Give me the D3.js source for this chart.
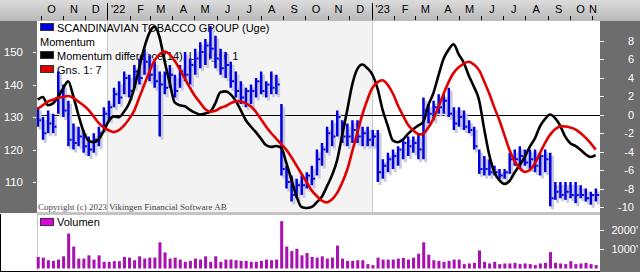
<!DOCTYPE html>
<html>
<head>
<meta charset="utf-8">
<title>Scandinavian Tobacco Group - Momentum</title>
<script src="https://d3js.org/d3.v7.min.js"></script>
<style>
    body { margin: 0; background: #fff; }
    svg { display: block; font-family: "Liberation Sans", Arial, sans-serif; }
</style>
</head>
<body>
<div id="chart"></div>
<script>
// weekly bars, first week starts Mon 27 Sep 2021
const firstWeek = new Date(2021, 8, 27);

const highs = [133,130,132,131,144,140,135,128,127,126,
    124,125,127,133,135,139,141,144,143,146,
    148,151,149,147,144,144,146,143,146,150,
    148,151,153,154,158,155,151,150,147,144,
    141,139,140,142,144,141,144,143,134,115,
    112,111,112,113,115,120,122,127,129,132,
    129,128,129,129,127,127,126,126,117,119,
    120,121,123,124,124,125,136,134,135,137,
    137,139,133,133,132,129,127,120,118,117,
    115,114,114,119,120,121,120,120,120,119,
    120,119,110,110,110,110,110,109,108,107,108];

const lows = [127,123,125,125,131,130,121,120,121,119,
    118,119,121,126,129,133,134,137,136,139,
    140,143,141,139,124,137,139,136,139,141,
    140,143,145,146,148,145,143,142,139,136,
    134,133,134,136,137,136,137,137,112,108,
    104,105,106,108,109,112,115,119,121,124,
    122,121,122,122,121,121,121,110,111,113,
    114,115,117,118,119,117,117,128,129,131,
    131,130,126,127,126,125,120,112.5,112,112,
    112,111,111,112.5,115,114,115,114,113,112,
    113,102.5,104.5,105,104.5,105,103.5,105,104,103,104];

const closes = [129,125,128,127,138,132,123,122,124,121,
    120,123,125,131,133,137,136,142,138,144,
    142,147,143,141,140,139,143,138,144,143,
    146,148,150,152,151,148,145,146,141,138,
    136,138,138,141,138,140,139,140,114,110,
    106,109,109,112,111,117,120,125,124,130,
    124,124,126,124,125,123,124,113,115,117,
    118,120,122,121,122,120,132,131,133,133,
    135,131,128,130,127,126,121,114,114,113,
    113,112,113,117,117,118,116,117,115,118,
    117,105,107,106,107,106,106,106,105,106,106];

const momentum = [1.6,1.9,1.0,1.2,1.9,2.8,3.6,2.0,0.0,-1.8,
    -2.8,-3.0,-2.7,-1.8,-0.7,-0.2,-0.3,0.3,1.2,2.8,
    5.0,7.2,8.8,9.5,8.4,5.8,3.5,1.3,1.0,0.9,
    0.5,0.2,0.0,0.1,0.3,1.2,2.4,2.5,2.2,1.5,
    0.5,-0.6,-1.3,-1.9,-2.6,-3.3,-3.5,-3.4,-3.6,-5.2,
    -7.0,-8.8,-10.0,-10.1,-10.0,-9.5,-8.9,-7.8,-6.6,-5.0,
    -2.3,0.4,3.2,4.9,5.4,5.0,4.3,2.8,0.5,-1.2,
    -2.8,-3.0,-2.7,-2.1,-1.6,-1.2,-0.8,1.0,2.3,4.2,
    6.0,7.0,7.6,6.5,5.6,4.2,3.0,1.6,-1.5,-4.3,
    -6.2,-7.1,-7.5,-7.2,-6.3,-5.5,-4.6,-3.5,-2.6,-1.3,
    -0.5,0.0,-0.4,-1.2,-2.4,-3.1,-3.4,-3.8,-4.3,-4.6,-4.4];

const momentumAvg = [0.6,1.0,1.4,1.6,1.8,1.9,2.0,1.8,1.4,1.0,
    0.5,-0.2,-0.9,-1.4,-1.7,-1.9,-1.7,-1.2,-0.5,0.4,
    1.8,3.2,4.6,5.8,6.5,6.8,6.5,5.8,4.9,3.9,
    2.9,2.0,1.3,0.6,0.3,0.4,0.7,0.9,1.2,1.4,
    1.4,1.2,0.9,0.3,-0.5,-1.3,-2.0,-2.6,-3.2,-3.8,
    -4.6,-5.5,-6.4,-7.3,-8.2,-8.8,-9.3,-9.5,-9.2,-8.5,
    -7.4,-6.0,-4.0,-2.0,0.0,1.6,2.9,3.5,3.7,3.2,
    2.3,1.0,-0.1,-1.1,-1.7,-2.1,-2.1,-1.4,-0.5,0.8,
    2.2,3.5,4.5,5.1,5.5,5.7,5.4,4.8,3.6,2.3,
    0.8,-0.6,-2.2,-3.8,-5.0,-5.8,-6.2,-6.0,-5.3,-4.2,
    -3.1,-2.2,-1.6,-1.3,-1.3,-1.4,-1.6,-2.0,-2.5,-3.1,-3.8];

// volume in thousands of shares
const volume = [590,558,425,392,458,625,1792,1125,508,508,
    675,458,675,342,342,375,375,592,558,425,
    625,508,558,558,1342,825,508,558,458,342,
    392,508,458,625,342,625,342,458,458,425,
    392,392,342,342,392,458,425,458,2425,1125,
    892,1008,675,792,592,558,625,508,558,1175,
    508,392,392,425,425,225,175,558,458,458,
    458,508,542,458,558,758,1342,708,425,392,
    342,392,458,458,225,258,292,925,342,258,
    342,225,258,258,292,225,258,225,175,258,
    292,842,292,258,225,375,225,258,292,225,175];

const monthLabels = ["O","N","D","'22","F","M","A","M","J","J","A","S",
    "O","N","D","'23","F","M","A","M","J","J","A","S","O","N"];
const priceTicks = [150, 140, 130, 120, 110];
const momentumTicks = [8, 6, 4, 2, 0, -2, -4, -6, -8, -10];
const volumeTicks = [2000, 1000];

const width = 640, height = 276;
const plotLeft = 37, plotRight = 600, plotTop = 21, plotBottom = 212;
const volTop = 215, volBottom = 271;

const dates = highs.map((d, i) => d3.timeDay.offset(firstWeek, i * 7));
const weeks = dates.map((d, i) => ({
    date: d, hi: highs[i], lo: lows[i], close: closes[i],
    mom: momentum[i], avg: momentumAvg[i], vol: volume[i]
}));

const x = d3.scaleTime()
    .domain([new Date(2021, 8, 26), new Date(2023, 10, 12)])
    .range([plotLeft, plotRight]);
const yPrice = d3.scaleLinear().domain([100, 160]).range([214.5, 19.5]);
const yMom = d3.scaleLinear().domain([-10, 8]).range([207, 40.5]);
const yVol = d3.scaleLinear().domain([0, 2000]).range([268.5, 229.5]);

const svg = d3.select("#chart").append("svg")
    .attr("width", width)
    .attr("height", height);

const defs = svg.append("defs");
const grad = defs.append("linearGradient").attr("id", "strip")
    .attr("x1", 0).attr("y1", 0).attr("x2", 0).attr("y2", 1);
grad.append("stop").attr("offset", "0%").attr("stop-color", "#dcdcdc");
grad.append("stop").attr("offset", "100%").attr("stop-color", "#b9b9b9");
defs.append("clipPath").attr("id", "plotclip")
    .append("rect").attr("x", plotLeft).attr("y", plotTop)
    .attr("width", plotRight - plotLeft).attr("height", plotBottom - plotTop);

// frame
svg.append("rect").attr("width", width).attr("height", height).attr("fill", "#fff");
svg.append("rect").attr("x", 0).attr("y", 0).attr("width", width).attr("height", plotTop)
    .attr("fill", "url(#strip)");
svg.append("rect").attr("x", 0).attr("y", plotTop).attr("width", plotLeft).attr("height", plotBottom - plotTop + 1)
    .attr("fill", "#6d6d6d");
svg.append("rect").attr("x", plotRight).attr("y", plotTop).attr("width", width - plotRight).attr("height", volBottom - plotTop + 1)
    .attr("fill", "#6d6d6d");

// year shading
const years = [new Date(2022, 0, 1), new Date(2023, 0, 1)];
svg.append("rect")
    .attr("x", x(years[0])).attr("y", plotTop)
    .attr("width", x(years[1]) - x(years[0])).attr("height", plotBottom - plotTop)
    .attr("fill", "#f3f3f3");
svg.selectAll(".yearline").data(years).enter().append("line")
    .attr("x1", d => Math.round(x(d)) + 0.5).attr("x2", d => Math.round(x(d)) + 0.5)
    .attr("y1", plotTop).attr("y2", plotBottom)
    .attr("stroke", "#c8c8c8");

// separator and volume panel
svg.append("rect").attr("x", plotLeft).attr("y", plotBottom).attr("width", plotRight - plotLeft).attr("height", volTop - plotBottom)
    .attr("fill", "#c4c4c4");
svg.append("line").attr("x1", plotLeft + 0.5).attr("x2", plotLeft + 0.5).attr("y1", volTop).attr("y2", volBottom)
    .attr("stroke", "#c8c8c8");
svg.append("line").attr("x1", 0.5).attr("x2", 0.5).attr("y1", volTop - 1).attr("y2", volBottom + 1)
    .attr("stroke", "#000");
svg.append("line").attr("x1", 0).attr("x2", plotRight).attr("y1", volBottom + 0.5).attr("y2", volBottom + 0.5)
    .attr("stroke", "#000");

// month axis on top
const months = d3.timeMonth.range(new Date(2021, 9, 1), new Date(2023, 11, 1));
svg.selectAll(".mtick").data(months).enter().append("line")
    .attr("x1", d => Math.round(x(d)) + 0.5).attr("x2", d => Math.round(x(d)) + 0.5)
    .attr("y1", d => d.getMonth() === 0 ? 3 : 16).attr("y2", 20)
    .attr("stroke", "#000");
svg.selectAll(".mlabel").data(months).enter().append("text")
    .attr("x", d => Math.min(593, x(d3.timeDay.offset(d, 15))))
    .attr("y", 13)
    .attr("text-anchor", "middle")
    .attr("font-size", 11)
    .attr("fill", "#000")
    .text((d, i) => monthLabels[i]);

// left price axis
const leftAxis = svg.append("g");
leftAxis.selectAll("line").data(priceTicks).enter().append("line")
    .attr("x1", 33).attr("x2", 36)
    .attr("y1", d => Math.round(yPrice(d)) + 0.5).attr("y2", d => Math.round(yPrice(d)) + 0.5)
    .attr("stroke", "#fff");
leftAxis.selectAll("text").data(priceTicks).enter().append("text")
    .attr("x", 23).attr("y", d => yPrice(d) + 4)
    .attr("text-anchor", "end").attr("font-size", 11.5).attr("fill", "#fff")
    .text(d => d);

// right momentum axis
const rightAxis = svg.append("g");
rightAxis.selectAll("line").data(momentumTicks).enter().append("line")
    .attr("x1", plotRight).attr("x2", plotRight + 4)
    .attr("y1", d => Math.round(yMom(d)) + 0.5).attr("y2", d => Math.round(yMom(d)) + 0.5)
    .attr("stroke", "#fff");
rightAxis.selectAll("text").data(momentumTicks).enter().append("text")
    .attr("x", 634).attr("y", d => yMom(d) + 4)
    .attr("text-anchor", "end").attr("font-size", 11).attr("fill", "#fff")
    .text(d => d);

// volume axis
const volAxis = svg.append("g");
volAxis.selectAll("line").data(volumeTicks).enter().append("line")
    .attr("x1", plotRight).attr("x2", plotRight + 4)
    .attr("y1", d => Math.round(yVol(d)) + 0.5).attr("y2", d => Math.round(yVol(d)) + 0.5)
    .attr("stroke", "#fff");
volAxis.selectAll("text").data(volumeTicks).enter().append("text")
    .attr("x", 638).attr("y", d => yVol(d) + 4)
    .attr("text-anchor", "end").attr("font-size", 11).attr("fill", "#fff")
    .text(d => d + "'");

// legend (drawn under the data)
const legendItems = [
    { label: "SCANDINAVIAN TOBACCO GROUP (Uge)", color: "#0000e0", y: 32 },
    { label: "Momentum", color: null, y: 46 },
    { label: "Momentum difference(14), Længde 1", color: "#000", y: 60 },
    { label: "Gns. 1: 7", color: "#e00000", y: 74 }
];
const legend = svg.append("g");
legendItems.forEach(d => {
    if (d.color) {
        legend.append("rect").attr("x", 40.5).attr("y", d.y - 8.5).attr("width", 13).attr("height", 7)
            .attr("fill", d.color).attr("stroke", "#333");
    }
    legend.append("text").attr("x", d.color ? 57 : 40).attr("y", d.y)
        .attr("font-size", 11).attr("fill", "#000").text(d.label);
});
svg.append("text").attr("x", 38).attr("y", 210)
    .attr("font-family", "'Liberation Serif', 'Times New Roman', serif")
    .attr("font-size", 9).attr("fill", "#444")
    .text("Copyright (c) 2023 Vikingen Financial Software AB");

const plot = svg.append("g").attr("clip-path", "url(#plotclip)");

// zero line
plot.append("line")
    .attr("x1", plotLeft).attr("x2", plotRight)
    .attr("y1", Math.round(yMom(0)) + 0.5).attr("y2", Math.round(yMom(0)) + 0.5)
    .attr("stroke", "#000");

// price bars with shadow
plot.selectAll(".shadow").data(weeks).enter().append("rect")
    .attr("x", d => x(d.date) + 1)
    .attr("y", d => yPrice(d.hi) + 3)
    .attr("width", 3)
    .attr("height", d => yPrice(d.lo) - yPrice(d.hi))
    .attr("fill", "#c9c9df");
plot.selectAll(".bar").data(weeks).enter().append("rect")
    .attr("x", d => x(d.date) - 1)
    .attr("y", d => yPrice(d.hi))
    .attr("width", 2.5)
    .attr("height", d => yPrice(d.lo) - yPrice(d.hi))
    .attr("fill", "#0000e0");
plot.selectAll(".closetick").data(weeks).enter().append("rect")
    .attr("x", d => x(d.date) + 1.5)
    .attr("y", d => yPrice(d.close) - 1)
    .attr("width", 2)
    .attr("height", 2)
    .attr("fill", "#0000e0");

// momentum lines
const momLine = d3.line().x(d => x(d.date)).y(d => yMom(d.mom)).curve(d3.curveMonotoneX);
const avgLine = d3.line().x(d => x(d.date)).y(d => yMom(d.avg)).curve(d3.curveCatmullRom);
plot.append("path").datum(weeks).attr("d", momLine)
    .attr("fill", "none").attr("stroke", "#000").attr("stroke-width", 2.6).attr("stroke-linejoin", "round");
plot.append("path").datum(weeks).attr("d", avgLine)
    .attr("fill", "none").attr("stroke", "#e00000").attr("stroke-width", 2.6).attr("stroke-linejoin", "round");

// volume panel
svg.append("rect").attr("x", 40.5).attr("y", 218.5).attr("width", 13).attr("height", 7)
    .attr("fill", "#e000e0").attr("stroke", "#333");
svg.append("text").attr("x", 57).attr("y", 226).attr("font-size", 11).attr("fill", "#000").text("Volumen");
svg.selectAll(".vol").data(weeks).enter().append("rect")
    .attr("x", d => x(d.date) - 1)
    .attr("y", d => yVol(d.vol))
    .attr("width", 3)
    .attr("height", d => yVol(0) - yVol(d.vol))
    .attr("fill", "#a810b0");
</script>
</body>
</html>
